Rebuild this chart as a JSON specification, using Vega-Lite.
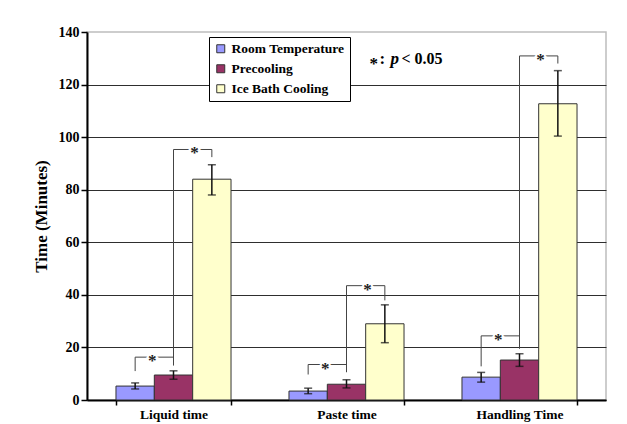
{
  "$schema": "https://vega.github.io/schema/vega-lite/v6.json",
  "width": 519,
  "height": 368,
  "autosize": "none",
  "padding": {"left": 87, "top": 32, "right": 21, "bottom": 24},
  "background": "white",
  "config": {
    "font": "Liberation Serif",
    "view": {"stroke": "#bdbdbd", "strokeWidth": 1.5},
    "axisY": {
      "labelFont": "Liberation Serif", "labelFontSize": 14, "labelFontWeight": "bold", "labelColor": "black",
      "labelPadding": 2, "tickColor": "black", "tickSize": 6, "tickWidth": 1.5,
      "domainColor": "black", "domainWidth": 2,
      "gridColor": "#2e2e2e", "gridWidth": 1,
      "titleFont": "Liberation Serif", "titleFontSize": 17, "titleFontWeight": "bold", "titleColor": "black", "titlePadding": 8
    },
    "axisX": {
      "labelFont": "Liberation Serif", "labelFontSize": 13.5, "labelFontWeight": "bold", "labelColor": "black",
      "labelPadding": 2, "tickColor": "black", "tickSize": 5, "tickWidth": 1.5,
      "domainColor": "black", "domainWidth": 2, "tickBand": "extent", "labelAngle": 0
    },
    "legend": {
      "orient": "none", "legendX": 122, "legendY": 5,
      "strokeColor": "black", "fillColor": "white", "padding": 5,
      "labelFont": "Liberation Serif", "labelFontSize": 13.5, "labelFontWeight": "bold", "labelColor": "black",
      "symbolType": "square", "symbolSize": 64, "symbolStrokeColor": "#333", "symbolStrokeWidth": 1,
      "labelOffset": 4, "rowPadding": 5, "symbolOpacity": 1
    }
  },
  "datasets": {
    "bars": [
      {"task": "Liquid time", "group": "Room Temperature", "time": 5.3, "low": 4.2, "high": 6.5},
      {"task": "Liquid time", "group": "Precooling", "time": 9.5, "low": 7.9, "high": 11.1},
      {"task": "Liquid time", "group": "Ice Bath Cooling", "time": 84.0, "low": 78.0, "high": 89.5},
      {"task": "Paste time", "group": "Room Temperature", "time": 3.4, "low": 2.4, "high": 4.5},
      {"task": "Paste time", "group": "Precooling", "time": 6.0, "low": 4.6, "high": 7.7},
      {"task": "Paste time", "group": "Ice Bath Cooling", "time": 29.0, "low": 21.8, "high": 36.2},
      {"task": "Handling Time", "group": "Room Temperature", "time": 8.7, "low": 6.8, "high": 10.5},
      {"task": "Handling Time", "group": "Precooling", "time": 15.2, "low": 12.8, "high": 17.6},
      {"task": "Handling Time", "group": "Ice Bath Cooling", "time": 112.7, "low": 100.4, "high": 125.3}
    ],
    "brackets": [
      {"task": "Liquid time", "pair": "A", "member": "Room Temperature", "val": 11.0, "ord": 1},
      {"task": "Liquid time", "pair": "A", "member": "Room Temperature", "val": 16.3, "ord": 2},
      {"task": "Liquid time", "pair": "A", "member": "Precooling", "val": 16.3, "ord": 3},
      {"task": "Liquid time", "pair": "A", "member": "Precooling", "val": 13.1, "ord": 4},
      {"task": "Liquid time", "pair": "B", "member": "Precooling", "val": 13.5, "ord": 1},
      {"task": "Liquid time", "pair": "B", "member": "Precooling", "val": 95.3, "ord": 2},
      {"task": "Liquid time", "pair": "B", "member": "Ice Bath Cooling", "val": 95.3, "ord": 3},
      {"task": "Liquid time", "pair": "B", "member": "Ice Bath Cooling", "val": 92.4, "ord": 4},
      {"task": "Paste time", "pair": "A", "member": "Room Temperature", "val": 9.7, "ord": 1},
      {"task": "Paste time", "pair": "A", "member": "Room Temperature", "val": 13.5, "ord": 2},
      {"task": "Paste time", "pair": "A", "member": "Precooling", "val": 13.5, "ord": 3},
      {"task": "Paste time", "pair": "A", "member": "Precooling", "val": 10.6, "ord": 4},
      {"task": "Paste time", "pair": "B", "member": "Precooling", "val": 10.6, "ord": 1},
      {"task": "Paste time", "pair": "B", "member": "Precooling", "val": 43.5, "ord": 2},
      {"task": "Paste time", "pair": "B", "member": "Ice Bath Cooling", "val": 43.5, "ord": 3},
      {"task": "Paste time", "pair": "B", "member": "Ice Bath Cooling", "val": 37.9, "ord": 4},
      {"task": "Handling Time", "pair": "A", "member": "Room Temperature", "val": 12.8, "ord": 1},
      {"task": "Handling Time", "pair": "A", "member": "Room Temperature", "val": 24.4, "ord": 2},
      {"task": "Handling Time", "pair": "A", "member": "Precooling", "val": 24.4, "ord": 3},
      {"task": "Handling Time", "pair": "A", "member": "Precooling", "val": 19.7, "ord": 4},
      {"task": "Handling Time", "pair": "B", "member": "Precooling", "val": 19.5, "ord": 1},
      {"task": "Handling Time", "pair": "B", "member": "Precooling", "val": 130.9, "ord": 2},
      {"task": "Handling Time", "pair": "B", "member": "Ice Bath Cooling", "val": 130.9, "ord": 3},
      {"task": "Handling Time", "pair": "B", "member": "Ice Bath Cooling", "val": 128.0, "ord": 4}
    ],
    "stars": [
      {"task": "Liquid time", "pair": "A", "left": "Room Temperature", "val": 16.3},
      {"task": "Liquid time", "pair": "B", "left": "Precooling", "val": 95.3},
      {"task": "Paste time", "pair": "A", "left": "Room Temperature", "val": 13.5},
      {"task": "Paste time", "pair": "B", "left": "Precooling", "val": 43.5},
      {"task": "Handling Time", "pair": "A", "left": "Room Temperature", "val": 24.4},
      {"task": "Handling Time", "pair": "B", "left": "Precooling", "val": 130.9}
    ],
    "note": [
      {"part": "*", "shift": "a"},
      {"part": ":", "shift": "d"},
      {"part": "p", "shift": "b"},
      {"part": "< 0.05", "shift": "c"}
    ]
  },
  "encoding": {
    "x": {
      "field": "task", "type": "nominal", "title": null,
      "sort": ["Liquid time", "Paste time", "Handling Time"],
      "scale": {"domain": ["Liquid time", "Paste time", "Handling Time"], "paddingInner": 0.335, "paddingOuter": 0.1675}
    }
  },
  "layer": [
    {
      "data": {"name": "bars"},
      "mark": {"type": "bar", "stroke": "#333", "strokeWidth": 1},
      "encoding": {
        "xOffset": {"field": "group", "type": "nominal", "scale": {"domain": ["Room Temperature", "Precooling", "Ice Bath Cooling"], "paddingInner": 0, "paddingOuter": 0}},
        "y": {
          "field": "time", "type": "quantitative", "title": "Time (Minutes)",
          "scale": {"domain": [0, 140], "nice": false},
          "axis": {"values": [0, 20, 40, 60, 80, 100, 120, 140], "gridOpacity": {"condition": {"test": "datum.value == 140", "value": 0}, "value": 1}}
        },
        "color": {
          "field": "group", "type": "nominal",
          "scale": {"domain": ["Room Temperature", "Precooling", "Ice Bath Cooling"], "range": ["#9999FF", "#993366", "#FFFFCC"]},
          "legend": {"title": null}
        }
      }
    },
    {
      "data": {"name": "bars"},
      "mark": {"type": "rule", "color": "#111", "strokeWidth": 1.5},
      "encoding": {
        "xOffset": {"field": "group", "type": "nominal"},
        "y": {"field": "low", "type": "quantitative"},
        "y2": {"field": "high"}
      }
    },
    {
      "data": {"name": "bars"},
      "mark": {"type": "tick", "orient": "horizontal", "color": "#111", "size": 8, "thickness": 1.5},
      "encoding": {
        "xOffset": {"field": "group", "type": "nominal"},
        "y": {"field": "low", "type": "quantitative"}
      }
    },
    {
      "data": {"name": "bars"},
      "mark": {"type": "tick", "orient": "horizontal", "color": "#111", "size": 8, "thickness": 1.5},
      "encoding": {
        "xOffset": {"field": "group", "type": "nominal"},
        "y": {"field": "high", "type": "quantitative"}
      }
    },
    {
      "data": {"name": "brackets"},
      "transform": [{"filter": "datum.pair == 'A'"}],
      "mark": {"type": "line", "color": "#444", "strokeWidth": 1, "xOffset": -2},
      "encoding": {
        "xOffset": {"field": "member", "type": "nominal"},
        "y": {"field": "val", "type": "quantitative"},
        "detail": {"field": "task"},
        "order": {"field": "ord"}
      }
    },
    {
      "data": {"name": "brackets"},
      "transform": [{"filter": "datum.pair == 'B'"}],
      "mark": {"type": "line", "color": "#444", "strokeWidth": 1, "xOffset": 2},
      "encoding": {
        "xOffset": {"field": "member", "type": "nominal"},
        "y": {"field": "val", "type": "quantitative"},
        "detail": {"field": "task"},
        "order": {"field": "ord"}
      }
    },
    {
      "data": {"name": "stars"},
      "transform": [{"filter": "datum.pair == 'A'"}],
      "encoding": {
        "xOffset": {"field": "left", "type": "nominal"},
        "y": {"field": "val", "type": "quantitative"},
        "text": {"value": "*"}
      },
      "layer": [
        {"mark": {"type": "text", "dx": 17, "dy": 4, "fontSize": 17, "fontWeight": "bold", "fill": "white", "stroke": "white", "strokeWidth": 4}},
        {"mark": {"type": "text", "dx": 17, "dy": 4, "fontSize": 17, "fontWeight": "bold", "color": "#222"}}
      ]
    },
    {
      "data": {"name": "stars"},
      "transform": [{"filter": "datum.pair == 'B'"}],
      "encoding": {
        "xOffset": {"field": "left", "type": "nominal"},
        "y": {"field": "val", "type": "quantitative"},
        "text": {"value": "*"}
      },
      "layer": [
        {"mark": {"type": "text", "dx": 21, "dy": 4, "fontSize": 17, "fontWeight": "bold", "fill": "white", "stroke": "white", "strokeWidth": 4}},
        {"mark": {"type": "text", "dx": 21, "dy": 4, "fontSize": 17, "fontWeight": "bold", "color": "#222"}}
      ]
    },
    {
      "data": {"name": "note"},
      "transform": [{"filter": "datum.shift == 'a'"}],
      "mark": {"type": "text", "align": "left", "baseline": "alphabetic", "dx": 23, "dy": 5, "fontSize": 17, "fontWeight": "bold", "color": "black"},
      "encoding": {"x": {"datum": "Paste time"}, "y": {"datum": 128}, "text": {"field": "part"}}
    },
    {
      "data": {"name": "note"},
      "transform": [{"filter": "datum.shift == 'd'"}],
      "mark": {"type": "text", "align": "left", "baseline": "alphabetic", "dx": 33, "fontSize": 17, "fontWeight": "bold", "color": "black"},
      "encoding": {"x": {"datum": "Paste time"}, "y": {"datum": 128}, "text": {"field": "part"}}
    },
    {
      "data": {"name": "note"},
      "transform": [{"filter": "datum.shift == 'b'"}],
      "mark": {"type": "text", "align": "left", "baseline": "alphabetic", "dx": 44, "fontSize": 17, "fontWeight": "bold", "fontStyle": "italic", "color": "black"},
      "encoding": {"x": {"datum": "Paste time"}, "y": {"datum": 128}, "text": {"field": "part"}}
    },
    {
      "data": {"name": "note"},
      "transform": [{"filter": "datum.shift == 'c'"}],
      "mark": {"type": "text", "align": "left", "baseline": "alphabetic", "dx": 55, "fontSize": 16, "fontWeight": "bold", "color": "black"},
      "encoding": {"x": {"datum": "Paste time"}, "y": {"datum": 128}, "text": {"field": "part"}}
    }
  ]
}
